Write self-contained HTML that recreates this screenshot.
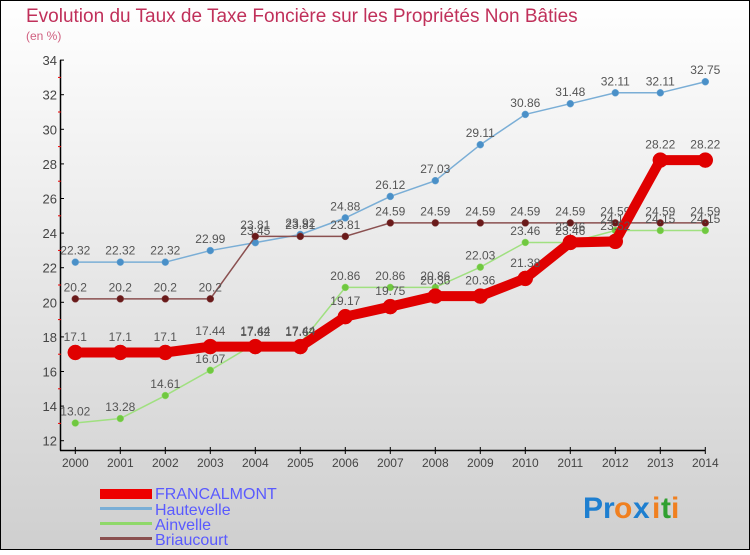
<!DOCTYPE html>
<html><head><meta charset="utf-8"><style>
body{margin:0;}
svg text{font-family:"Liberation Sans",sans-serif;}
</style></head><body>
<svg id="chart" width="750" height="550" viewBox="0 0 750 550" xmlns="http://www.w3.org/2000/svg">
<defs><linearGradient id="bg" x1="0" y1="0" x2="0" y2="1"><stop offset="0" stop-color="#ffffff"/><stop offset="1" stop-color="#cfcfcf"/></linearGradient></defs>
<rect x="0.5" y="0.5" width="749" height="549" fill="url(#bg)" stroke="#000"/>
<text x="26" y="22" font-size="19" fill="#c0305a">Evolution du Taux de Taxe Foncière sur les Propriétés Non Bâties</text>
<text x="26" y="40" font-size="12" fill="#d06080">(en %)</text>
<g id="axes"></g>
<g id="series"></g>
<g>
<rect x="100" y="489" width="52" height="10" fill="#e00"/><text x="155" y="499" font-size="16" fill="#5a5aff">FRANCALMONT</text>
<rect x="100" y="507" width="52" height="3" fill="#7aaed6"/><text x="155" y="515" font-size="16" fill="#5a5aff">Hautevelle</text>
<rect x="100" y="522" width="52" height="3" fill="#8fd86a"/><text x="155" y="530" font-size="16" fill="#5a5aff">Ainvelle</text>
<rect x="100" y="537" width="52" height="3" fill="#8a5050"/><text x="155" y="545" font-size="16" fill="#5a5aff">Briaucourt</text>
</g>
<g font-size="30" font-weight="bold">
<text x="583" y="518" fill="#1e7fd0">Pr</text><text x="614" y="518" fill="#f08020">o</text><text x="633" y="518" fill="#1e7fd0">x</text><text x="652" y="518" fill="#f08020">i</text><text x="661" y="518" fill="#30a030">t</text><text x="671" y="518" fill="#f08020">i</text>
</g>
</svg>
<script>
const years=[2000,2001,2002,2003,2004,2005,2006,2007,2008,2009,2010,2011,2012,2013,2014];
const yTicks=[12,14,16,18,20,22,24,26,28,30,32,34];
const francalmont=[17.1,17.1,17.1,17.44,17.44,17.44,19.17,19.75,20.36,20.36,21.38,23.46,23.52,28.22,28.22];
const hautevelle=[22.32,22.32,22.32,22.99,23.45,23.92,24.88,26.12,27.03,29.11,30.86,31.48,32.11,32.11,32.75];
const ainvelle=[13.02,13.28,14.61,16.07,17.62,17.62,20.86,20.86,20.86,22.03,23.46,23.46,24.15,24.15,24.15];
const briaucourt=[20.2,20.2,20.2,20.2,23.81,23.81,23.81,24.59,24.59,24.59,24.59,24.59,24.59,24.59,24.59];
const NS="http://www.w3.org/2000/svg";
const x=i=>75.3+i*45;
const y=v=>440.7-(v-12)*17.3;
function mk(tag,attrs,parent){const e=document.createElementNS(NS,tag);for(const k in attrs)e.setAttribute(k,attrs[k]);parent.appendChild(e);return e;}
const axes=document.getElementById('axes');
const yl=mk('line',{x1:60.5,y1:y(34),x2:60.5,y2:450.5,stroke:'#000','stroke-width':1.5},axes);


const xl=mk('line',{x1:60,y1:450.5,x2:x(14),y2:450.5,stroke:'#000','stroke-width':1.5},axes);


yTicks.forEach(t=>{
 mk('line',{x1:60,y1:y(t),x2:64,y2:y(t),stroke:'#000'},axes);
 if(t<34) mk('line',{x1:58,y1:y(t+1),x2:61,y2:y(t+1),stroke:'#e00'},axes);
 const tx=mk('text',{x:57,y:y(t)+5,'font-size':13,fill:'#444','text-anchor':'end'},axes);
 tx.textContent=t;
 
 
});
years.forEach((yr,i)=>{
 mk('line',{x1:x(i),y1:447,x2:x(i),y2:454,stroke:'#000'},axes);
 const tx=mk('text',{x:x(i),y:467,'font-size':12,fill:'#444','text-anchor':'middle'},axes);
 tx.textContent=yr;
 
 
});
const ser=document.getElementById('series');
function draw(vals,name,color,dot,w,r){
 const g=mk('g',{},ser);
 
 
 const pl=mk('polyline',{points:vals.map((v,i)=>x(i)+','+y(v)).join(' '),fill:'none',stroke:color,'stroke-width':w},g);
 
 
 vals.forEach((v,i)=>{
  const c=mk('circle',{cx:x(i),cy:y(v),r:r,fill:dot,stroke:color,'stroke-width':0.5},g);
  
  
  const t=mk('text',{x:x(i),y:y(v)-r-4,'font-size':12,fill:'#555','text-anchor':'middle'},g);
  t.textContent=v;
  
  
 });
}
draw(hautevelle,'hautevelle','#7aaed6','#4a90c8',1.5,3.5);
draw(briaucourt,'briaucourt','#8a5050','#6a1a1a',1.5,3.5);
draw(ainvelle,'ainvelle','#a0e080','#70c840',1.5,3.5);
draw(francalmont,'francalmont','#e00000','#e00000',10,7.5);
</script>
</body></html>
